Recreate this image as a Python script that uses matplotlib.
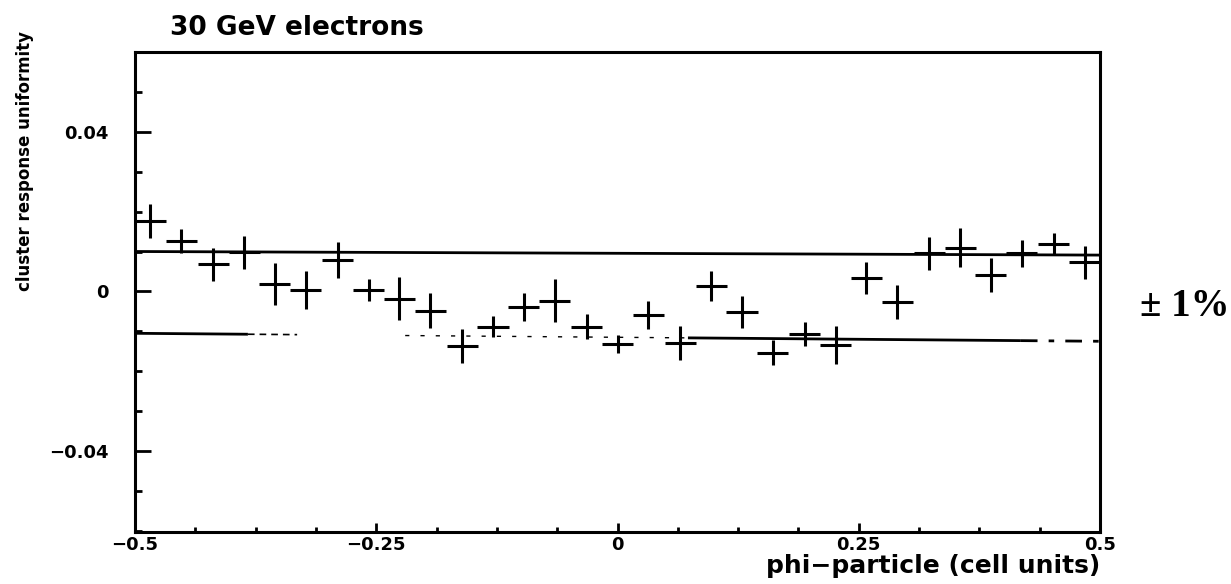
import numpy as np
import matplotlib
matplotlib.use("Agg")
import matplotlib.pyplot as plt

# ---- data ----
phi = [-0.484, -0.452, -0.419, -0.387, -0.355, -0.323, -0.290, -0.258,
       -0.226, -0.194, -0.161, -0.129, -0.097, -0.065, -0.032, 0.000,
       0.032, 0.065, 0.097, 0.129, 0.161, 0.194, 0.226, 0.258,
       0.290, 0.323, 0.355, 0.387, 0.419, 0.452, 0.484]
response = [0.0177, 0.0127, 0.0068, 0.0098, 0.0019, 0.0004, 0.0078, 0.0003,
            -0.0018, -0.0048, -0.0137, -0.0088, -0.0038, -0.0023, -0.0088, -0.0132,
            -0.0060, -0.0130, 0.0013, -0.0051, -0.0154, -0.0107, -0.0134, 0.0033,
            -0.0026, 0.0095, 0.0110, 0.0041, 0.0095, 0.0120, 0.0073]
response_err = [0.0043, 0.0030, 0.0042, 0.0042, 0.0052, 0.0047, 0.0045, 0.0028,
                0.0054, 0.0043, 0.0042, 0.0027, 0.0035, 0.0054, 0.0031, 0.0022,
                0.0035, 0.0043, 0.0037, 0.0040, 0.0031, 0.0030, 0.0047, 0.0040,
                0.0042, 0.0042, 0.0048, 0.0043, 0.0033, 0.0027, 0.0042]
bin_half_width = 0.0161

band_x = [-0.5, 0.5]
upper_band_y = [0.0100, 0.0091]
lower_band_y = [-0.0105, -0.0125]

xticks = [-0.5, -0.25, 0.0, 0.25, 0.5]
xtick_labels = ["\u22120.5", "\u22120.25", "0", "0.25", "0.5"]
yticks = [-0.04, 0.0, 0.04]
ytick_labels = ["\u22120.04", "0", "0.04"]

W, H = 1231, 584
fig = plt.figure(figsize=(W / 100, H / 100), dpi=100)
ax = fig.add_axes([135 / W, 1 - 532 / H, 965 / W, 480 / H])
ax.set_xlim(-0.5, 0.5)
ax.set_ylim(-0.0603, 0.0588)

ax.errorbar(phi, response, xerr=bin_half_width, yerr=response_err,
            fmt="none", ecolor="black", elinewidth=2.2, capsize=0)

# +-1% band lines
ax.plot(band_x, upper_band_y, color="black", lw=2.0, solid_capstyle="butt")

def lower_y(xv):
    return np.interp(xv, band_x, lower_band_y)

segments = [((-0.5, -0.383), "-", 2.0),
            ((-0.383, -0.332), (0, (4, 3)), 1.2),
            ((-0.22, 0.073), (0, (3, 8)), 1.0),
            ((0.073, 0.418), "-", 2.0),
            ((0.418, 0.5), (0, (6, 4, 2, 4)), 2.0)]
for (x0, x1), ls, lw in segments:
    ax.plot([x0, x1], [lower_y(x0), lower_y(x1)], color="black", lw=lw,
            linestyle=ls, solid_capstyle="butt")

for s in ax.spines.values():
    s.set_linewidth(2.2)

ax.set_xticks(xticks)
ax.set_xticklabels(xtick_labels)
ax.set_xticks(np.arange(-0.5, 0.5001, 0.0625), minor=True)
ax.set_yticks(yticks)
ax.set_yticklabels(ytick_labels)
ax.set_yticks(np.arange(-0.06, 0.0601, 0.01), minor=True)

ax.tick_params(axis="x", which="major", direction="in", length=6.5, width=2.0,
               pad=3, labelsize=13, top=False)
ax.tick_params(axis="x", which="minor", direction="in", length=3.6, width=2.0, top=False)
ax.tick_params(axis="y", which="major", direction="in", length=11.5, width=2.0,
               pad=19, labelsize=13, right=False)
ax.tick_params(axis="y", which="minor", direction="in", length=5, width=2.0, right=False)
for lab in ax.get_xticklabels() + ax.get_yticklabels():
    lab.set_fontweight("bold")
    lab.set_family("DejaVu Sans")

fig.text(170 / W, 1 - 28 / H, "30 GeV electrons", ha="left", va="center",
         fontsize=19, fontweight="bold", family="DejaVu Sans")
fig.text(1100 / W, 1 - 566 / H, "phi\u2212particle (cell units)", ha="right",
         va="center", fontsize=18, fontweight="bold", family="DejaVu Sans")
fig.text(25 / W, 1 - 161 / H, "cluster response uniformity", rotation=90,
         ha="center", va="center", fontsize=13.3, fontweight="bold",
         fontstretch="condensed", family="DejaVu Sans")
fig.text(1140 / W, 1 - 306 / H, "\u00b1 1%", ha="left", va="center",
         fontsize=28, fontweight="bold", family="Liberation Serif")

fig.savefig("out.png", dpi=100)
